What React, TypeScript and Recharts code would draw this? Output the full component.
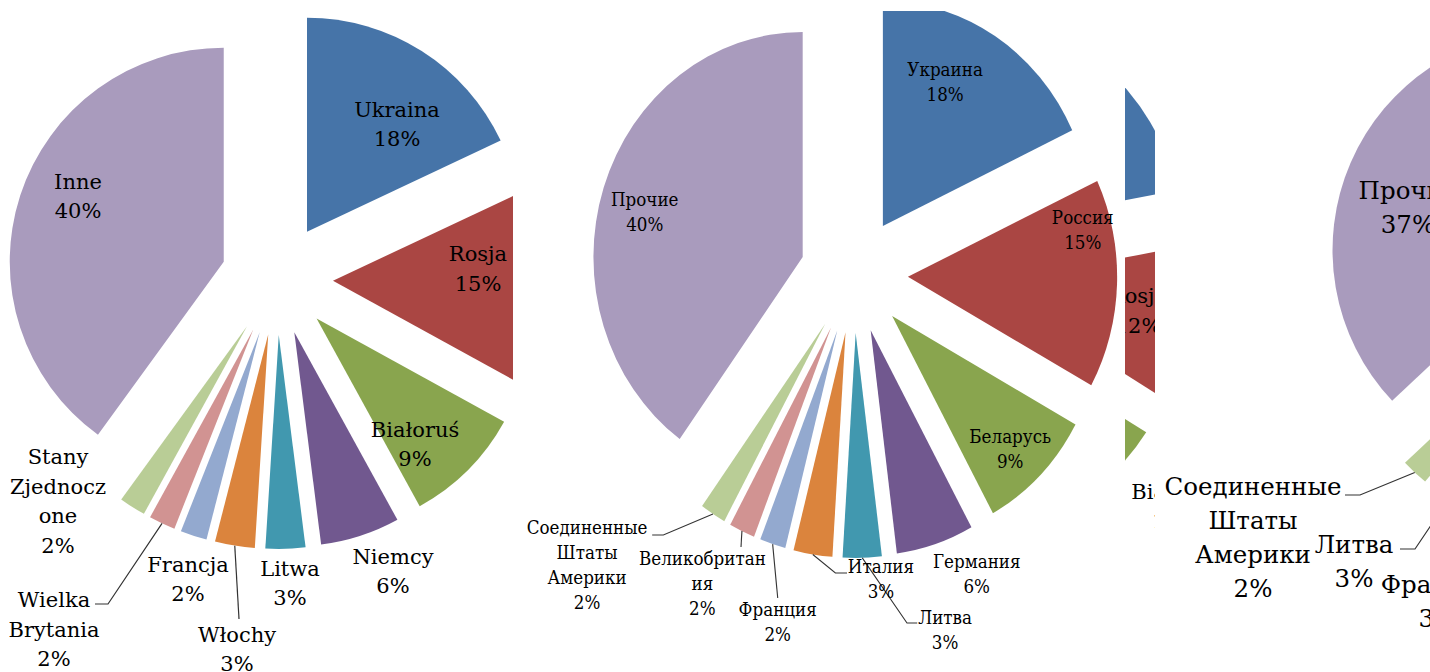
import React from 'react';
import { PieChart, Pie, Cell, Sector } from 'recharts';

// Excel 2007 style slice colours, by slice position
const sliceColors = ['#4674A8', '#AA4643', '#89A54E', '#71588F', '#4198AF', '#DB843D', '#93A9CF', '#D19392', '#B9CD96', '#A99BBD'];

// Chart 1 (Polish)
const plNames = ['Ukraina', 'Rosja', 'Białoruś', 'Niemcy', 'Litwa', 'Włochy', 'Francja', 'Wielka\nBrytania', 'Stany\nZjednocz\none', 'Inne'];
const plShares = [18, 15, 9, 6, 3, 3, 2, 2, 2, 40];

// Chart 2 (Russian)
const ruNames = ['Украина', 'Россия', 'Беларусь', 'Германия', 'Литва', 'Италия', 'Франция', 'Великобритан\nия', 'Соединенные\nШтаты\nАмерики', 'Прочие'];
const ruShares = [18, 15, 9, 6, 3, 3, 2, 2, 2, 40];

// Chart 3 (Polish, second period - only a sliver is visible)
const pl2Names = ['Ukraina', 'Rosja', 'Białoruś', 'Niemcy', 'Włochy', 'Wielka\nBrytania', 'Francja', 'Litwa', 'Stany\nZjednocz\none', 'Inne'];
const pl2Shares = [22, 12, 10, 6, 3, 2, 3, 3, 2, 37];

// Chart 4 (Russian, second period)
const ru2Names = ['Украина', 'Россия', 'Беларусь', 'Германия', 'Италия', 'Великобритания', 'Франция', 'Литва', 'Соединенные\nШтаты\nАмерики', 'Прочие'];
const ru2Shares = [22, 12, 10, 6, 3, 2, 3, 3, 2, 37];

const RAD = Math.PI / 180;
const toXY = (cx: number, cy: number, r: number, angle: number) => [
    cx + r * Math.cos(-angle * RAD),
    cy + r * Math.sin(-angle * RAD),
];

type Spot = { at: [number, number]; leader?: [number, number][] };

interface PanelProps {
    clip: { left: number; top: number; width: number; height: number };
    chart: { left: number; width: number; height: number; sx: number };
    cx: number;
    cy: number;
    r: number;
    explode: number;
    names: string[];
    shares: number[];
    layout: Record<number, Spot>;
    fontSize: number;
    lh: number;
}

const Panel: React.FC<PanelProps> = (p) => {
    const data = p.names.map((name, i) => ({ name, value: p.shares[i] }));

    const shape = (s: any) => {
        const [x, y] = toXY(s.cx, s.cy, p.explode, s.midAngle);
        return <Sector {...s} cx={x} cy={y} stroke="none" />;
    };

    // labels are only drawn where the layout places them (the rest lie outside the crop)
    const label = (l: any) => {
        const { cx, cy, midAngle, outerRadius, percent, index, name } = l;
        const spot = p.layout[index];
        if (!spot) return <g />;
        const lines = [...String(name).split('\n'), `${Math.round(percent * 100)}%`];
        const x = cx + spot.at[0];
        const y = cy + spot.at[1];
        const top = y - ((lines.length - 1) * p.lh) / 2;
        let leader = null;
        if (spot.leader) {
            const start = toXY(cx, cy, p.explode + outerRadius, midAngle);
            const pts = [start, ...spot.leader.map(([dx, dy]) => [cx + dx, cy + dy])];
            leader = (
                <polyline
                    points={pts.map((q) => q.join(',')).join(' ')}
                    fill="none"
                    stroke="#333"
                    strokeWidth={1.2}
                />
            );
        }
        return (
            <g>
                {leader}
                <text textAnchor="middle" fontFamily="'DejaVu Serif', serif" fontSize={p.fontSize} fill="#000">
                    {lines.map((t, i) => (
                        <tspan key={i} x={x} y={top + i * p.lh + p.fontSize * 0.36}>
                            {t}
                        </tspan>
                    ))}
                </text>
            </g>
        );
    };

    return (
        <div
            style={{
                position: 'absolute',
                left: p.clip.left,
                top: p.clip.top,
                width: p.clip.width,
                height: p.clip.height,
                overflow: 'hidden',
            }}
        >
            <div
                style={{
                    position: 'absolute',
                    left: p.chart.left,
                    top: 0,
                    transform: `scaleX(${p.chart.sx})`,
                    transformOrigin: '0 0',
                }}
            >
                <PieChart width={p.chart.width} height={p.chart.height} margin={{ top: 0, right: 0, bottom: 0, left: 0 }}>
                    <Pie
                        data={data}
                        dataKey="value"
                        nameKey="name"
                        cx={p.cx}
                        cy={p.cy}
                        outerRadius={p.r}
                        startAngle={90}
                        endAngle={-270}
                        stroke="none"
                        shape={shape}
                        activeShape={shape}
                        label={label}
                        labelLine={false}
                        isAnimationActive={false}
                    >
                        {data.map((d, i) => (
                            <Cell key={d.name} fill={sliceColors[i]} />
                        ))}
                    </Pie>
                </PieChart>
            </div>
        </div>
    );
};

const plLayout: Record<number, Spot> = {
    0: { at: [120, -155] },
    1: { at: [201, -10.5] },
    2: { at: [138, 165] },
    3: { at: [116, 292] },
    4: { at: [13, 304] },
    5: { at: [-40, 370], leader: [[-38, 340]] },
    6: { at: [-89, 300] },
    7: { at: [-223, 350], leader: [[-169, 325], [-182, 325]] },
    8: { at: [-219, 222] },
    9: { at: [-199, -83] },
};

const ruLayout: Record<number, Spot> = {
    0: { at: [98, -192.5] },
    1: { at: [246, -44.5] },
    2: { at: [168, 174.5] },
    3: { at: [132, 299] },
    4: { at: [98, 355], leader: [[57, 348], [68, 348]] },
    5: { at: [29, 304.5], leader: [[-20, 298], [-7.5, 298]] },
    6: { at: [-82, 347.5], leader: [[-82, 323]] },
    7: { at: [-163, 309], leader: [[-121.5, 272]] },
    8: { at: [-287, 290], leader: [[-205, 260], [-217, 260]] },
    9: { at: [-225, -62.5] },
};

const pl2Layout: Record<number, Spot> = {
    1: { at: [209, 36.5] },
    2: { at: [246.5, 231.75] },
};

const ru2Layout: Record<number, Spot> = {
    6: { at: [-165, 329.5] },
    7: { at: [-249, 289.5], leader: [[-188, 277], [-203, 277]] },
    8: { at: [-350, 265], leader: [[-243, 223], [-258, 223]] },
    9: { at: [-195, -65] },
};

export default function App() {
    return (
        <div style={{ position: 'absolute', left: 0, top: 0, width: 1430, height: 672, background: '#fff', overflow: 'hidden' }}>
            <Panel
                clip={{ left: 0, top: 0, width: 513, height: 672 }}
                chart={{ left: 0, width: 513, height: 672, sx: 1 }}
                cx={277}
                cy={279}
                r={214}
                explode={56}
                names={plNames}
                shares={plShares}
                layout={plLayout}
                fontSize={21}
                lh={29.5}
            />
            <Panel
                clip={{ left: 513, top: 11, width: 612, height: 661 }}
                chart={{ left: 2, width: 656, height: 661, sx: 0.93 }}
                cx={364.5}
                cy={264}
                r={225}
                explode={58}
                names={ruNames}
                shares={ruShares}
                layout={ruLayout}
                fontSize={18}
                lh={25}
            />
            <Panel
                clip={{ left: 1125, top: 0, width: 30, height: 672 }}
                chart={{ left: -400, width: 460, height: 672, sx: 1 }}
                cx={204}
                cy={274}
                r={215}
                explode={56}
                names={pl2Names}
                shares={pl2Shares}
                layout={pl2Layout}
                fontSize={21}
                lh={29.5}
            />
            <Panel
                clip={{ left: 1155, top: 0, width: 275, height: 672 }}
                chart={{ left: 0, width: 700, height: 672, sx: 1 }}
                cx={448}
                cy={272}
                r={220}
                explode={55}
                names={ru2Names}
                shares={ru2Shares}
                layout={ru2Layout}
                fontSize={24.5}
                lh={34}
            />
        </div>
    );
}
